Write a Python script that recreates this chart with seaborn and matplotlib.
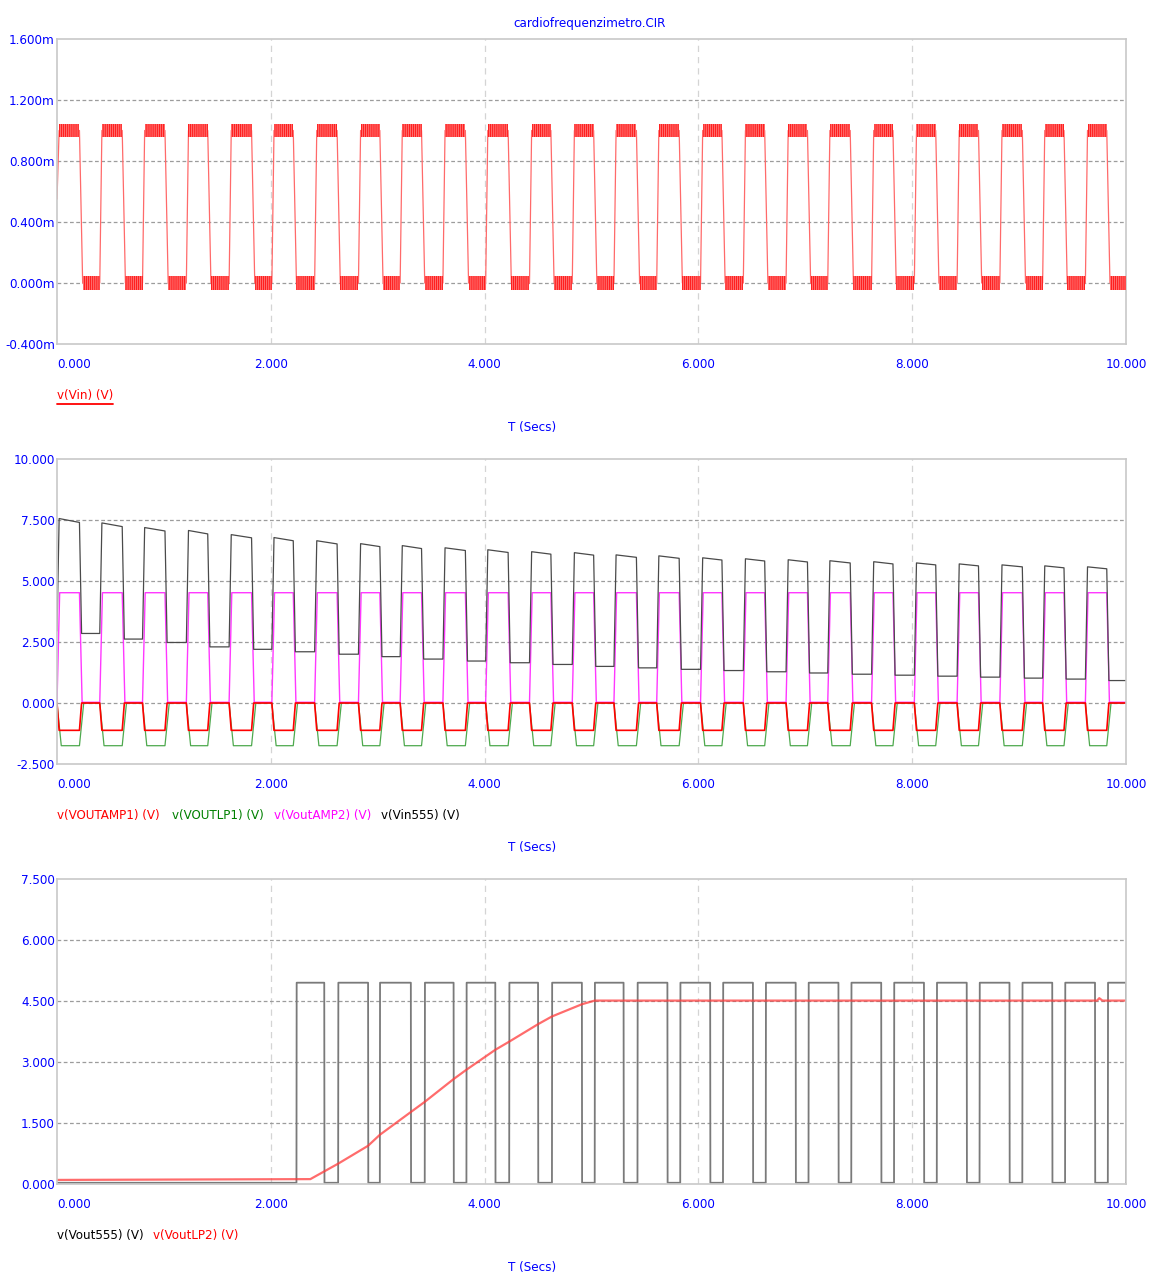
import matplotlib
matplotlib.use("Agg")
import matplotlib.pyplot as plt
import pandas as pd
import seaborn as sns
from matplotlib.lines import Line2D

# ---------------- data ----------------
TIME_TICKS = [0.0, 2.0, 4.0, 6.0, 8.0, 10.0]
TIME_LABELS = ["0.000", "2.000", "4.000", "6.000", "8.000", "10.000"]

# Heart-beat sensor input v(Vin): pulse edges (s) and levels (V)
VIN_RISE = [0.00, 0.40, 0.80, 1.21, 1.61, 2.01, 2.41, 2.82, 3.21, 3.61, 4.01, 4.42, 4.82,
            5.21, 5.61, 6.02, 6.42, 6.82, 7.21, 7.62, 8.02, 8.42, 8.82, 9.22, 9.62]
VIN_FALL = [0.21, 0.61, 1.01, 1.41, 1.82, 2.21, 2.62, 3.02, 3.41, 3.82, 4.22, 4.62, 5.02,
            5.42, 5.82, 6.22, 6.62, 7.02, 7.42, 7.82, 8.22, 8.62, 9.03, 9.42, 9.82]
VIN_START = 0.55e-3
VIN_HIGH = 1.0e-3
VIN_LOW = 0.0
VIN_NOISE = 0.045e-3

# v(Vin555): plateau values per beat
VIN555_START = 2.95
VIN555_HIGH_START = [7.56, 7.38, 7.19, 7.07, 6.90, 6.78, 6.65, 6.53, 6.45, 6.36, 6.28, 6.20,
                     6.16, 6.07, 6.03, 5.95, 5.91, 5.87, 5.83, 5.79, 5.74, 5.70, 5.66, 5.62, 5.58]
VIN555_HIGH_END = [7.40, 7.23, 7.05, 6.93, 6.77, 6.65, 6.52, 6.41, 6.33, 6.25, 6.17, 6.10,
                   6.06, 5.97, 5.93, 5.86, 5.82, 5.78, 5.74, 5.70, 5.66, 5.62, 5.58, 5.54, 5.50]
VIN555_LOW = [2.85, 2.62, 2.48, 2.30, 2.20, 2.10, 2.00, 1.90, 1.80, 1.72, 1.65, 1.58, 1.50,
              1.44, 1.38, 1.33, 1.28, 1.23, 1.18, 1.14, 1.10, 1.06, 1.02, 0.98, 0.92]

# Op-amp / filter stages: (level while input low, level while input high)
AMP1_LEVELS = (0.0, -1.12)
LP1_LEVELS = (0.0, -1.75)
AMP2_LEVELS = (0.03, 4.52)

# v(Vout555): monostable output pulses
VOUT555_RISE = [2.24, 2.63, 3.02, 3.44, 3.83, 4.23, 4.63, 5.03, 5.43, 5.83,
                6.23, 6.63, 7.03, 7.43, 7.83, 8.23, 8.63, 9.03, 9.43, 9.83]
VOUT555_FALL = [2.50, 2.91, 3.31, 3.71, 4.10, 4.50, 4.91, 5.30, 5.71, 6.11,
                6.51, 6.91, 7.31, 7.71, 8.11, 8.51, 8.91, 9.31, 9.71, 10.00]
VOUT555_LEVELS = (0.03, 4.95)

# v(VoutLP2): filtered output
LP2_T = [0.00, 2.37, 2.63, 2.91, 3.02, 3.31, 3.44, 3.71, 3.83, 4.10, 4.23, 4.50,
         4.63, 4.91, 5.03, 9.73, 9.75, 9.78, 10.00]
LP2_V = [0.10, 0.12, 0.50, 0.94, 1.21, 1.77, 2.02, 2.58, 2.81, 3.30, 3.50, 3.93,
         4.12, 4.42, 4.51, 4.51, 4.57, 4.51, 4.51]

T_END = 10.0


def pulse_train(rises, falls, hi_start, hi_end, lows, start, t_rise, t_fall):
    """Piecewise-linear waveform built from edge times and plateau levels."""
    t, v = [0.0], [start]
    prev_low = start
    for i, (r, f) in enumerate(zip(rises, falls)):
        if r > 0:
            t.append(r)
            v.append(prev_low)
        t += [r + t_rise, f, f + t_fall]
        v += [hi_start[i], hi_end[i], lows[i]]
        prev_low = lows[i]
    t.append(T_END)
    v.append(prev_low)
    return pd.DataFrame({"t": t, "v": v})


def rep(x, n):
    return [x] * n


n_vin = len(VIN_RISE)
n_555 = len(VOUT555_RISE)

vin_df = pulse_train(VIN_RISE, VIN_FALL, rep(VIN_HIGH, n_vin), rep(VIN_HIGH, n_vin),
                     rep(VIN_LOW, n_vin), VIN_START, 0.02, 0.03)
vin555_df = pulse_train(VIN_RISE, VIN_FALL, VIN555_HIGH_START, VIN555_HIGH_END,
                        VIN555_LOW, VIN555_START, 0.02, 0.02)
amp1_df = pulse_train(VIN_RISE, VIN_FALL, rep(AMP1_LEVELS[1], n_vin), rep(AMP1_LEVELS[1], n_vin),
                      rep(AMP1_LEVELS[0], n_vin), AMP1_LEVELS[0], 0.02, 0.02)
lp1_df = pulse_train(VIN_RISE, VIN_FALL, rep(LP1_LEVELS[1], n_vin), rep(LP1_LEVELS[1], n_vin),
                     rep(LP1_LEVELS[0], n_vin), LP1_LEVELS[0], 0.04, 0.04)
amp2_df = pulse_train(VIN_RISE, VIN_FALL, rep(AMP2_LEVELS[1], n_vin), rep(AMP2_LEVELS[1], n_vin),
                      rep(AMP2_LEVELS[0], n_vin), AMP2_LEVELS[0], 0.025, 0.025)
vout555_df = pulse_train(VOUT555_RISE, VOUT555_FALL, rep(VOUT555_LEVELS[1], n_555),
                         rep(VOUT555_LEVELS[1], n_555), rep(VOUT555_LEVELS[0], n_555),
                         VOUT555_LEVELS[0], 0.002, 0.002)
lp2_df = pd.DataFrame({"t": LP2_T, "v": LP2_V})

# ---------------- style ----------------
sns.set_style("white")
plt.rcParams["font.family"] = ["DejaVu Sans"]
plt.rcParams["font.stretch"] = "condensed"
plt.rcParams["hatch.linewidth"] = 0.5
BLUE = "#0000ff"
FS = 9.5

W, H = 1149, 1280
fig = plt.figure(figsize=(W / 100, H / 100), dpi=100)


def make_axes(top, bottom, left=57, right=1126):
    return fig.add_axes([left / W, 1 - bottom / H, (right - left) / W, (bottom - top) / H])


def style_axes(ax, yticks, ylabels):
    ax.set_xlim(0, T_END)
    ax.set_ylim(yticks[0], yticks[-1])
    ax.set_xticks(TIME_TICKS)
    ax.set_xticklabels(TIME_LABELS)
    ax.get_xticklabels()[0].set_horizontalalignment("left")
    ax.set_yticks(yticks)
    ax.set_yticklabels(ylabels)
    ax.tick_params(axis="both", length=0, labelcolor=BLUE, labelsize=FS)
    ax.tick_params(axis="x", pad=10)
    ax.tick_params(axis="y", pad=1.5)
    ax.set_xlabel("")
    ax.set_ylabel("")
    for s in ax.spines.values():
        s.set_color("#c8c8c8")
        s.set_linewidth(1.2)
    for x in TIME_TICKS[1:-1]:
        ax.axvline(x, color="#d4d4d4", lw=0.9, ls=(0, (5, 4)), zorder=0)
    for y in yticks[1:-1]:
        ax.axhline(y, color="#9c9c9c", lw=0.9, ls=(0, (3, 2)), zorder=0)


def trace(ax, df, color, lw=1.0, alpha=1.0, z=2):
    sns.lineplot(data=df, x="t", y="v", ax=ax, color=color, lw=lw, alpha=alpha,
                 sort=False, estimator=None, legend=False, zorder=z)


def noise_band(ax, t0, t1, level):
    ax.fill_between([t0, t1], level - VIN_NOISE, level + VIN_NOISE,
                    facecolor=(1.0, 0.42, 0.42), edgecolor="#ff0000", hatch="||||||||",
                    lw=0, zorder=3)


# ---- panel 1: v(Vin) ----
ax1 = make_axes(39, 344)
vin_ticks = [-0.4e-3, 0.0, 0.4e-3, 0.8e-3, 1.2e-3, 1.6e-3]
trace(ax1, vin_df, "#ff6a6a", lw=0.9)
for i, (r, f) in enumerate(zip(VIN_RISE, VIN_FALL)):
    noise_band(ax1, r + 0.02, f, VIN_HIGH)
    nxt = VIN_RISE[i + 1] if i + 1 < n_vin else T_END
    noise_band(ax1, f + 0.03, nxt, VIN_LOW)
style_axes(ax1, vin_ticks, [f"{v * 1000:.3f}m" for v in vin_ticks])

# ---- panel 2: amplifier stages ----
ax2 = make_axes(459, 764)
trace(ax2, lp1_df, "#2f9a2f", lw=0.9, alpha=0.85)
trace(ax2, amp2_df, "#ff22ff", lw=1.0, alpha=0.9)
trace(ax2, amp1_df, "#ff0000", lw=1.2)
trace(ax2, vin555_df, "#4a4a4a", lw=0.9)
p2_ticks = [-2.5, 0.0, 2.5, 5.0, 7.5, 10.0]
style_axes(ax2, p2_ticks, [f"{v:.3f}" for v in p2_ticks])

# ---- panel 3: 555 output and final low-pass ----
ax3 = make_axes(879, 1184)
trace(ax3, vout555_df, "#7a7a7a", lw=1.3)
trace(ax3, lp2_df, "#ff3b3b", lw=1.6, alpha=0.75)
p3_ticks = [0.0, 1.5, 3.0, 4.5, 6.0, 7.5]
style_axes(ax3, p3_ticks, [f"{v:.3f}" for v in p3_ticks])


# ---------------- text ----------------
def ftext(x, y, s, color, ha="left"):
    return fig.text(x / W, 1 - y / H, s, color=color, fontsize=FS, ha=ha, va="center")


ftext(590, 24, "cardiofrequenzimetro.CIR", BLUE, ha="center")

vin_lbl = ftext(57, 396, "v(Vin) (V)", "#ff0000")
ftext(532, 427, "T (Secs)", BLUE, ha="center")

ftext(57, 815, "v(VOUTAMP1) (V)", "#ff0000")
ftext(172, 815, "v(VOUTLP1) (V)", "#008000")
ftext(274, 815, "v(VoutAMP2) (V)", "#ff00ff")
ftext(381, 815, "v(Vin555) (V)", "#000000")
ftext(532, 847, "T (Secs)", BLUE, ha="center")

ftext(57, 1235, "v(Vout555) (V)", "#000000")
ftext(153, 1235, "v(VoutLP2) (V)", "#ff0000")
ftext(532, 1267, "T (Secs)", BLUE, ha="center")

# underline the selected trace name
fig.canvas.draw()
bb = vin_lbl.get_window_extent().transformed(fig.transFigure.inverted())
fig.add_artist(Line2D([bb.x0, bb.x1], [bb.y0 - 1.5 / H, bb.y0 - 1.5 / H],
                      color="#ff0000", lw=1.3, transform=fig.transFigure))

fig.savefig("out.png", dpi=100)
